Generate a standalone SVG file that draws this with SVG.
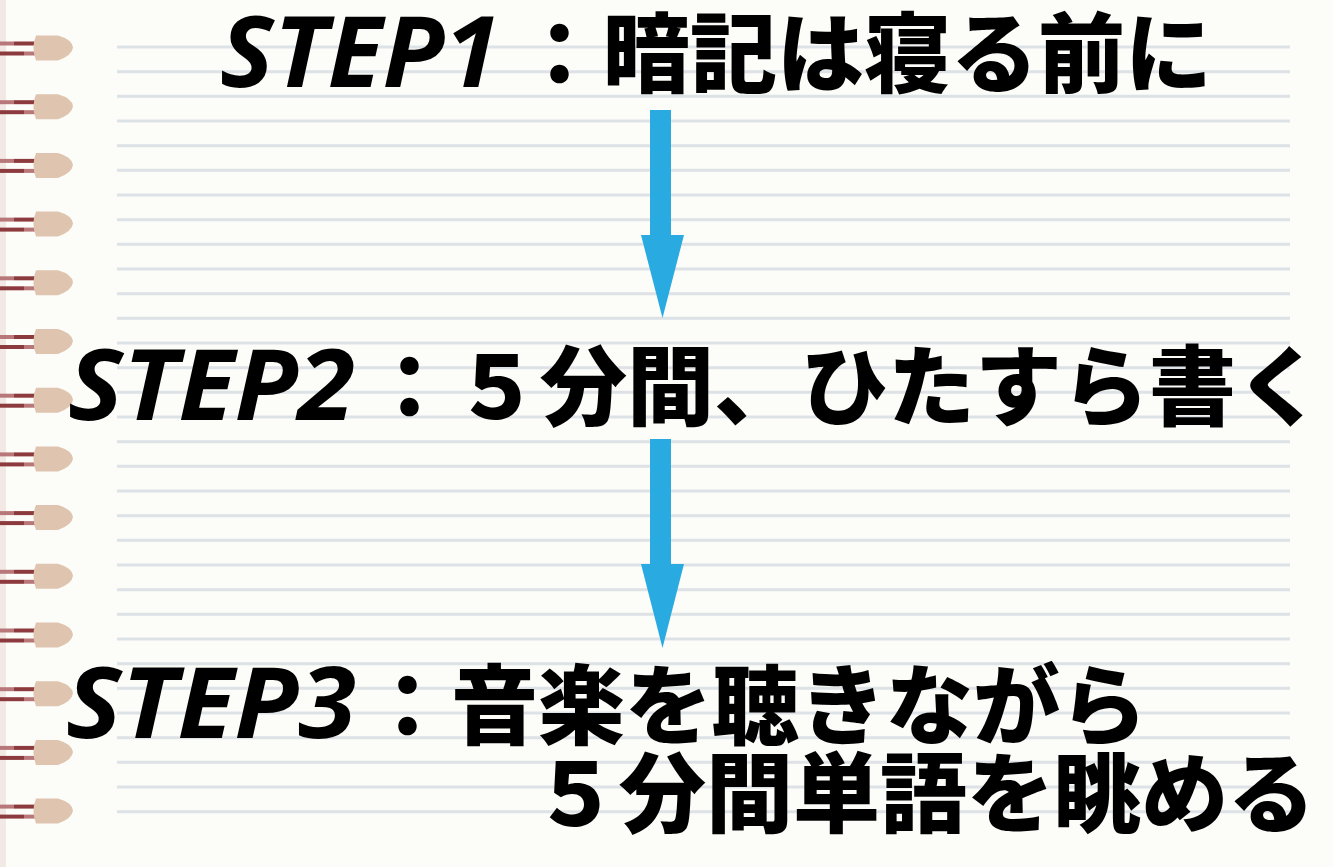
<svg xmlns="http://www.w3.org/2000/svg" width="1333" height="867" viewBox="0 0 1333 867">
  <style>
    .rule { stroke: #dde2e7; stroke-width: 3; }
    .wire-a { fill: #8c3a3d; }
    .wire-b { fill: #b8787a; }
    .bead { fill: #dfc4af; }
    .step { font-family: "Open Sans", "Noto Sans", sans-serif; font-weight: 700; font-style: italic; font-size: 98px; fill: #000; }
    .jp { font-family: "Noto Sans CJK JP", "Noto Sans", sans-serif; font-weight: 900; font-size: 87px; fill: #000; }
    .arrow { fill: #29abe2; }
  </style>
  <defs>
    <g id="ring">
      <rect class="wire-b" x="0" y="-6" width="14" height="4"/>
      <rect class="wire-a" x="14" y="-6" width="22" height="4"/>
      <rect class="wire-a" x="0" y="4" width="24" height="4"/>
      <rect class="wire-b" x="24" y="4" width="12" height="4"/>
      <path class="bead" d="M36,-12 L58,-12 Q72,-8 73,0 Q72,8 58,13 L36,13 Q31,0 36,-12 Z"/>
    </g>
  </defs>

  <rect width="1333" height="867" fill="#fcfcf8"/>
  <rect x="0" y="0" width="6" height="867" fill="#f3e9e4"/>

  <g id="ruled-lines">
    <line class="rule" x1="117" x2="1290" y1="47" y2="47"/>
    <line class="rule" x1="117" x2="1290" y1="71.7" y2="71.7"/>
    <line class="rule" x1="117" x2="1290" y1="96.3" y2="96.3"/>
    <line class="rule" x1="117" x2="1290" y1="121" y2="121"/>
    <line class="rule" x1="117" x2="1290" y1="145.7" y2="145.7"/>
    <line class="rule" x1="117" x2="1290" y1="170.3" y2="170.3"/>
    <line class="rule" x1="117" x2="1290" y1="195" y2="195"/>
    <line class="rule" x1="117" x2="1290" y1="219.7" y2="219.7"/>
    <line class="rule" x1="117" x2="1290" y1="244.3" y2="244.3"/>
    <line class="rule" x1="117" x2="1290" y1="269" y2="269"/>
    <line class="rule" x1="117" x2="1290" y1="293.7" y2="293.7"/>
    <line class="rule" x1="117" x2="1290" y1="318.3" y2="318.3"/>
    <line class="rule" x1="117" x2="1290" y1="343" y2="343"/>
    <line class="rule" x1="117" x2="1290" y1="367.7" y2="367.7"/>
    <line class="rule" x1="117" x2="1290" y1="392.3" y2="392.3"/>
    <line class="rule" x1="117" x2="1290" y1="417" y2="417"/>
    <line class="rule" x1="117" x2="1290" y1="441.7" y2="441.7"/>
    <line class="rule" x1="117" x2="1290" y1="466.3" y2="466.3"/>
    <line class="rule" x1="117" x2="1290" y1="491" y2="491"/>
    <line class="rule" x1="117" x2="1290" y1="515.7" y2="515.7"/>
    <line class="rule" x1="117" x2="1290" y1="540.3" y2="540.3"/>
    <line class="rule" x1="117" x2="1290" y1="565" y2="565"/>
    <line class="rule" x1="117" x2="1290" y1="589.7" y2="589.7"/>
    <line class="rule" x1="117" x2="1290" y1="614.3" y2="614.3"/>
    <line class="rule" x1="117" x2="1290" y1="639" y2="639"/>
    <line class="rule" x1="117" x2="1290" y1="663.7" y2="663.7"/>
    <line class="rule" x1="117" x2="1290" y1="688.3" y2="688.3"/>
    <line class="rule" x1="117" x2="1290" y1="713" y2="713"/>
    <line class="rule" x1="117" x2="1290" y1="737.7" y2="737.7"/>
    <line class="rule" x1="117" x2="1290" y1="762.3" y2="762.3"/>
    <line class="rule" x1="117" x2="1290" y1="787" y2="787"/>
    <line class="rule" x1="117" x2="1290" y1="811.7" y2="811.7"/>
  </g>

  <g id="binding">
    <use href="#ring" x="0" y="47.5"/>
    <use href="#ring" x="0" y="106.2"/>
    <use href="#ring" x="0" y="164.9"/>
    <use href="#ring" x="0" y="223.6"/>
    <use href="#ring" x="0" y="282.3"/>
    <use href="#ring" x="0" y="341"/>
    <use href="#ring" x="0" y="399.7"/>
    <use href="#ring" x="0" y="458.4"/>
    <use href="#ring" x="0" y="517.1"/>
    <use href="#ring" x="0" y="575.8"/>
    <use href="#ring" x="0" y="634.5"/>
    <use href="#ring" x="0" y="693.2"/>
    <use href="#ring" x="0" y="751.9"/>
    <use href="#ring" x="0" y="810.6"/>
  </g>

  <g id="connectors">
    <polygon class="arrow" points="650,110 671,110 671,235 684,235 662.5,318 641,235 650,235"/>
    <polygon class="arrow" points="650,439 671,439 671,564 684,564 662.5,648 641,564 650,564"/>
  </g>

  <g id="step1">
    <text class="step" x="220" y="87" textLength="280" lengthAdjust="spacingAndGlyphs">STEP1</text>
    <text class="jp" x="516" y="86">：暗記は寝る前に</text>
  </g>
  <g id="step2">
    <text class="step" x="68" y="420" textLength="287" lengthAdjust="spacingAndGlyphs">STEP2</text>
    <text class="jp" x="366" y="419">：５分間、ひたすら書く</text>
  </g>
  <g id="step3">
    <text class="step" x="66" y="738" textLength="290" lengthAdjust="spacingAndGlyphs">STEP3</text>
    <text class="jp" x="364" y="738">：音楽を聴きながら</text>
    <text class="jp" x="532" y="826">５分間単語を眺める</text>
  </g>
</svg>
